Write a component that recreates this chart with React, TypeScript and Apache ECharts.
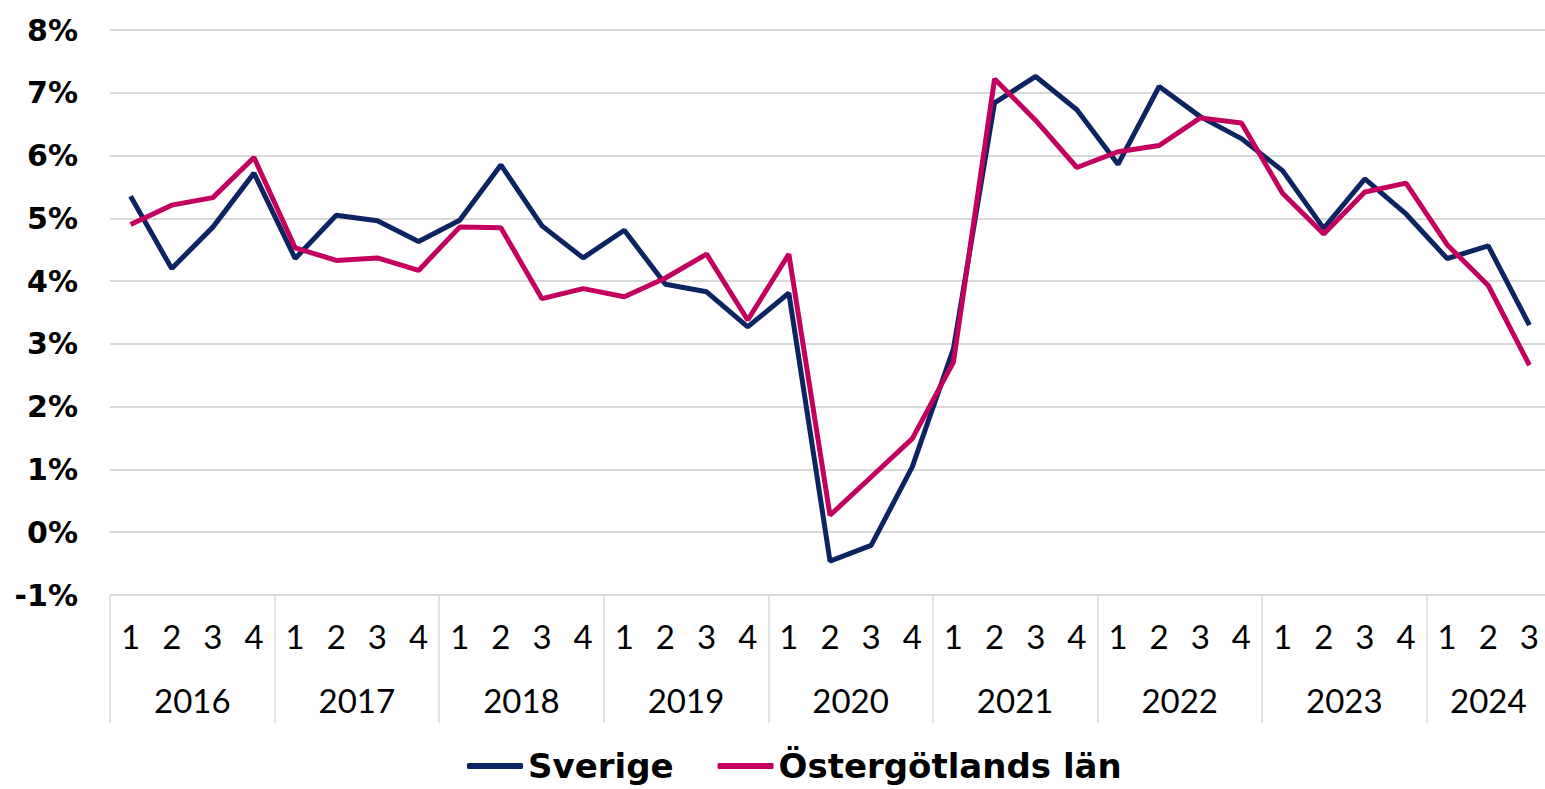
import React, { useEffect, useRef } from "react";
import * as echarts from "echarts";

const years = ["2016", "2017", "2018", "2019", "2020", "2021", "2022", "2023", "2024"];
const quartersPerYear = [4, 4, 4, 4, 4, 4, 4, 4, 3];
const yTicks = { min: -1, max: 8, interval: 1 };

const sverige = [
  5.35, 4.2, 4.86, 5.72,
  4.36, 5.05, 4.96, 4.63,
  4.97, 5.85, 4.88, 4.37,
  4.81, 3.95, 3.83, 3.27,
  3.81, -0.46, -0.21, 1.04,
  2.92, 6.84, 7.26, 6.73,
  5.86, 7.1, 6.62, 6.27,
  5.76, 4.84, 5.63, 5.07,
  4.36, 4.56, 3.3,
];

const ostergotland = [
  4.9, 5.21, 5.33, 5.97,
  4.53, 4.33, 4.37, 4.17,
  4.86, 4.85, 3.72, 3.88,
  3.75, 4.05, 4.43, 3.38,
  4.43, 0.27, 0.88, 1.49,
  2.71, 7.22, 6.56, 5.81,
  6.06, 6.16, 6.6, 6.52,
  5.4, 4.75, 5.42, 5.56,
  4.58, 3.93, 2.66,
];

const seriesNames = ["Sverige", "Östergötlands län"];
const seriesColors = ["#0c2461", "#c4005f"];

export default function App() {
  const ref = useRef<HTMLDivElement>(null);

  useEffect(() => {
    if (!ref.current) return;
    const chart = echarts.init(ref.current, undefined, { renderer: "svg" });

    const quarterLabels: string[] = [];
    const boundaries: number[] = [0];
    const centers: number[] = [];
    const centerYear: Record<string, string> = {};
    let pos = 0;
    quartersPerYear.forEach((n, i) => {
      for (let q = 1; q <= n; q++) quarterLabels.push(String(q));
      const c = pos + n / 2;
      centers.push(c);
      centerYear[String(c)] = years[i];
      pos += n;
      boundaries.push(pos);
    });
    const total = quarterLabels.length;

    const gridColor = "#d9d9d9";

    chart.setOption({
      animation: false,
      grid: { left: 110, top: 30, width: 1440, height: 565, outerBoundsMode: "none", containLabel: false },
      legend: {
        data: seriesNames,
        top: 744,
        left: 462,
        icon: "roundRect",
        itemWidth: 56,
        itemHeight: 6,
        itemGap: 44,
        textStyle: {
          fontFamily: "DejaVu Sans",
          fontWeight: "bold",
          fontSize: 34,
          color: "#000",
        },
      },
      xAxis: [
        {
          type: "category",
          data: quarterLabels,
          boundaryGap: true,
          axisTick: { show: false },
          axisLine: { lineStyle: { color: gridColor, width: 2 } },
          axisLabel: {
            interval: 0,
            fontFamily: "Lato",
            fontSize: 33,
            color: "#000",
            margin: 24,
          },
          splitLine: { show: false },
        },
        {
          type: "value",
          min: 0,
          max: total,
          position: "bottom",
          offset: 0,
          axisLine: { show: false },
          axisTick: {
            show: true,
            customValues: boundaries,
            length: 128,
            lineStyle: { color: gridColor, width: 1.5 },
          },
          axisLabel: {
            customValues: centers,
            formatter: (v: number) => centerYear[String(v)] ?? "",
            fontFamily: "Lato",
            fontSize: 33,
            color: "#000",
            margin: 88,
          },
          splitLine: { show: false },
        },
      ],
      yAxis: {
        type: "value",
        min: yTicks.min,
        max: yTicks.max,
        interval: yTicks.interval,
        axisLine: { show: false },
        axisTick: { show: false },
        axisLabel: {
          formatter: (v: number) => `${v}%`,
          fontFamily: "DejaVu Sans",
          fontWeight: "bold",
          fontSize: 30,
          color: "#000",
          margin: 32,
        },
        splitLine: { lineStyle: { color: gridColor, width: 2 } },
      },
      series: [
        {
          name: seriesNames[0],
          type: "line",
          xAxisIndex: 0,
          data: sverige,
          symbol: "none",
          lineStyle: { width: 5, color: seriesColors[0] },
          itemStyle: { color: seriesColors[0] },
        },
        {
          name: seriesNames[1],
          type: "line",
          xAxisIndex: 0,
          data: ostergotland,
          symbol: "none",
          lineStyle: { width: 5, color: seriesColors[1] },
          itemStyle: { color: seriesColors[1] },
        },
      ],
    });

    return () => chart.dispose();
  }, []);

  return (
    <div
      ref={ref}
      style={{ position: "fixed", left: 0, top: 0, width: "1545px", height: "789px", background: "#fff" }}
    />
  );
}
